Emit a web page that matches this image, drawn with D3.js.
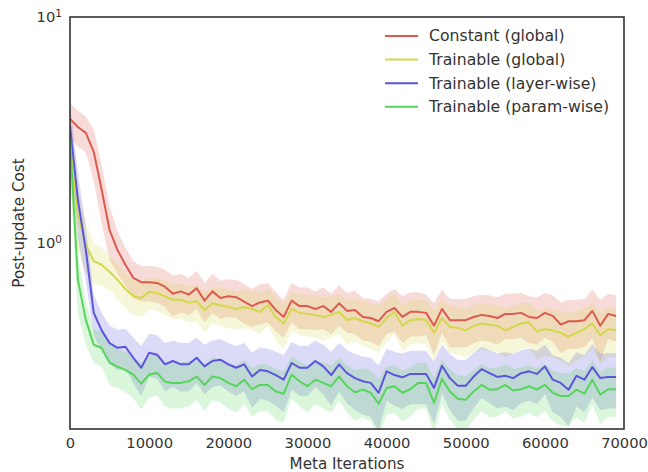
<!DOCTYPE html>
<html>
<head>
<meta charset="utf-8">
<script src="https://cdnjs.cloudflare.com/ajax/libs/d3/7.8.5/d3.min.js"></script>
<style>
body { margin: 0; background: #fff; }
text { font-family: "DejaVu Sans", sans-serif; fill: #333; }
</style>
</head>
<body>
<div id="draw_zone"></div>
<script>

// meta iterations, one sample every 1000 steps
var step = 1000;
var iterations = d3.range(0, 70 * step, step);

var xTicks = [0, 10000, 20000, 30000, 40000, 50000, 60000, 70000];
var yTicks = [1, 10];

var names = ["Constant (global)", "Trainable (global)", "Trainable (layer-wise)", "Trainable (param-wise)"];
var colors = ["#dc5a4f", "#d4d84c", "#5a55dc", "#55d65a"];

// mean post-update cost
var constGlobal = [3.54, 3.26, 3.07, 2.53, 1.72, 1.14, 0.93, 0.80, 0.70, 0.67,
  0.67, 0.665, 0.64, 0.595, 0.61, 0.59, 0.63, 0.555, 0.61, 0.57,
  0.58, 0.575, 0.55, 0.525, 0.545, 0.555, 0.505, 0.47, 0.555, 0.525,
  0.525, 0.51, 0.525, 0.495, 0.54, 0.50, 0.505, 0.47, 0.465, 0.45,
  0.495, 0.515, 0.47, 0.495, 0.495, 0.49, 0.43, 0.51, 0.455, 0.455,
  0.455, 0.47, 0.48, 0.475, 0.465, 0.485, 0.485, 0.49, 0.47, 0.465,
  0.49, 0.475, 0.435, 0.45, 0.45, 0.455, 0.50, 0.43, 0.485, 0.475];
var trainGlobal = [2.70, 1.33, 0.98, 0.83, 0.80, 0.745, 0.686, 0.625, 0.58, 0.57,
  0.607, 0.60, 0.58, 0.56, 0.56, 0.545, 0.55, 0.505, 0.54, 0.53,
  0.52, 0.51, 0.52, 0.51, 0.495, 0.53, 0.47, 0.44, 0.51, 0.49,
  0.485, 0.48, 0.47, 0.48, 0.495, 0.456, 0.465, 0.45, 0.44, 0.425,
  0.465, 0.495, 0.43, 0.455, 0.46, 0.456, 0.40, 0.465, 0.425, 0.42,
  0.41, 0.43, 0.44, 0.434, 0.43, 0.41, 0.425, 0.44, 0.445, 0.405,
  0.415, 0.41, 0.40, 0.385, 0.40, 0.415, 0.44, 0.39, 0.415, 0.41];
var trainLayer = [3.30, 1.55, 0.93, 0.49, 0.41, 0.36, 0.343, 0.347, 0.31, 0.28,
  0.326, 0.32, 0.29, 0.30, 0.29, 0.29, 0.31, 0.284, 0.30, 0.304,
  0.29, 0.28, 0.29, 0.256, 0.274, 0.27, 0.26, 0.248, 0.294, 0.28,
  0.28, 0.30, 0.284, 0.26, 0.29, 0.265, 0.252, 0.244, 0.24, 0.217,
  0.27, 0.26, 0.254, 0.263, 0.263, 0.263, 0.228, 0.286, 0.252, 0.233,
  0.233, 0.256, 0.276, 0.265, 0.255, 0.258, 0.252, 0.265, 0.27, 0.263,
  0.284, 0.248, 0.24, 0.224, 0.258, 0.248, 0.282, 0.252, 0.255, 0.255];
var trainParam = [2.86, 0.686, 0.456, 0.354, 0.343, 0.295, 0.283, 0.274, 0.261, 0.238,
  0.261, 0.266, 0.243, 0.24, 0.24, 0.244, 0.256, 0.235, 0.256, 0.252,
  0.24, 0.232, 0.248, 0.225, 0.235, 0.235, 0.22, 0.215, 0.261, 0.244,
  0.232, 0.248, 0.24, 0.232, 0.256, 0.232, 0.218, 0.224, 0.217, 0.194,
  0.228, 0.232, 0.217, 0.225, 0.24, 0.24, 0.196, 0.25, 0.22, 0.204,
  0.202, 0.22, 0.235, 0.224, 0.225, 0.235, 0.222, 0.225, 0.232, 0.224,
  0.235, 0.217, 0.21, 0.21, 0.224, 0.215, 0.248, 0.213, 0.225, 0.225];

// spread (std) around each mean
var constGlobalStd = [0.60, 0.60, 0.55, 0.65, 0.50, 0.30, 0.20, 0.15, 0.13, 0.12,
  0.12, 0.12, 0.12, 0.12, 0.12, 0.11, 0.12, 0.11, 0.12, 0.11,
  0.11, 0.11, 0.11, 0.10, 0.11, 0.11, 0.10, 0.09, 0.11, 0.11,
  0.11, 0.10, 0.11, 0.10, 0.11, 0.10, 0.11, 0.10, 0.10, 0.10,
  0.10, 0.11, 0.11, 0.11, 0.11, 0.10, 0.11, 0.11, 0.11, 0.11,
  0.11, 0.11, 0.11, 0.11, 0.11, 0.11, 0.11, 0.11, 0.11, 0.11,
  0.11, 0.11, 0.11, 0.11, 0.11, 0.11, 0.12, 0.13, 0.11, 0.11];
var trainGlobalStd = [0.90, 0.40, 0.25, 0.17, 0.15, 0.13, 0.12, 0.11, 0.10, 0.10,
  0.10, 0.10, 0.10, 0.10, 0.10, 0.10, 0.10, 0.10, 0.10, 0.10,
  0.10, 0.10, 0.10, 0.10, 0.10, 0.10, 0.10, 0.10, 0.10, 0.10,
  0.10, 0.10, 0.10, 0.10, 0.10, 0.10, 0.10, 0.10, 0.10, 0.10,
  0.10, 0.10, 0.10, 0.10, 0.10, 0.10, 0.10, 0.10, 0.10, 0.10,
  0.10, 0.10, 0.10, 0.10, 0.10, 0.10, 0.10, 0.10, 0.10, 0.10,
  0.10, 0.10, 0.10, 0.10, 0.10, 0.10, 0.10, 0.10, 0.10, 0.10];
var trainLayerStd = [0.80, 0.50, 0.25, 0.10, 0.08, 0.07, 0.07, 0.07, 0.07, 0.07,
  0.07, 0.07, 0.07, 0.07, 0.07, 0.07, 0.07, 0.07, 0.07, 0.07,
  0.07, 0.07, 0.07, 0.07, 0.07, 0.07, 0.07, 0.07, 0.07, 0.07,
  0.07, 0.07, 0.07, 0.07, 0.07, 0.07, 0.07, 0.07, 0.07, 0.07,
  0.07, 0.07, 0.07, 0.07, 0.07, 0.07, 0.07, 0.07, 0.07, 0.07,
  0.07, 0.07, 0.07, 0.07, 0.07, 0.07, 0.07, 0.07, 0.07, 0.07,
  0.07, 0.07, 0.07, 0.07, 0.07, 0.07, 0.075, 0.07, 0.07, 0.07];
var trainParamStd = [0.80, 0.20, 0.10, 0.06, 0.06, 0.06, 0.055, 0.055, 0.055, 0.055,
  0.055, 0.055, 0.055, 0.055, 0.055, 0.055, 0.055, 0.055, 0.055, 0.055,
  0.055, 0.055, 0.055, 0.055, 0.055, 0.055, 0.055, 0.055, 0.055, 0.055,
  0.055, 0.055, 0.055, 0.055, 0.055, 0.055, 0.055, 0.055, 0.055, 0.055,
  0.055, 0.055, 0.055, 0.055, 0.055, 0.055, 0.055, 0.055, 0.055, 0.055,
  0.055, 0.055, 0.055, 0.055, 0.055, 0.055, 0.055, 0.055, 0.055, 0.055,
  0.055, 0.055, 0.055, 0.055, 0.055, 0.055, 0.055, 0.055, 0.055, 0.055];

var means = [constGlobal, trainGlobal, trainLayer, trainParam];
var stds = [constGlobalStd, trainGlobalStd, trainLayerStd, trainParamStd];

var svgW = 648, svgH = 472;
var plotL = 70, plotR = 624, plotT = 17, plotB = 429;

var holder = d3.select("#draw_zone").append("svg").attr("width", svgW).attr("height", svgH);

var x = d3.scaleLinear().domain([0, 70000]).range([plotL, plotR]);
var y = d3.scaleLog().domain([0.15, 10]).range([plotB, plotT]);

holder.append("clipPath").attr("id", "plot_clip")
  .append("rect").attr("x", plotL).attr("y", plotT).attr("width", plotR - plotL).attr("height", plotB - plotT);

var plot = holder.append("g").attr("clip-path", "url(#plot_clip)");

// bands first, then lines on top
means.forEach(function(m, i) {
  var area = d3.area()
    .x(function(d, j) { return x(iterations[j]); })
    .y0(function(d, j) { return y(Math.max(m[j] - stds[i][j], 0.01)); })
    .y1(function(d, j) { return y(m[j] + stds[i][j]); });
  plot.append("path").datum(m).attr("d", area)
    .style("fill", colors[i]).style("fill-opacity", 0.22).style("stroke", "none");
});

means.forEach(function(m, i) {
  var line = d3.line()
    .x(function(d, j) { return x(iterations[j]); })
    .y(function(d) { return y(d); });
  plot.append("path").datum(m).attr("d", line)
    .style("fill", "none").style("stroke", colors[i]).style("stroke-width", 2)
    .style("stroke-linejoin", "round");
});

// frame
holder.append("rect").attr("x", plotL).attr("y", plotT).attr("width", plotR - plotL).attr("height", plotB - plotT)
  .style("fill", "none").style("stroke", "#333").style("stroke-width", 1.6);

// x axis
var xAxis = d3.axisBottom(x).tickValues(xTicks).tickSize(0).tickPadding(9).tickFormat(d3.format("d"));
var gx = holder.append("g").attr("transform", "translate(0," + plotB + ")").call(xAxis);
gx.select(".domain").remove();
gx.selectAll("text").style("font-size", "14.7px").style("fill", "#333").style("font-family", "DejaVu Sans");

// y axis with 10^n labels
var yAxis = d3.axisLeft(y).tickValues(yTicks).tickSize(0).tickFormat("");
var gy = holder.append("g").attr("transform", "translate(" + plotL + ",0)").call(yAxis);
gy.select(".domain").remove();
gy.selectAll(".tick text").remove();
gy.selectAll(".tick").append("text")
  .attr("x", -8).attr("dy", "0.32em").attr("text-anchor", "end")
  .style("font-size", "14.7px").style("fill", "#333").style("font-family", "DejaVu Sans")
  .each(function(d) {
    var t = d3.select(this);
    t.append("tspan").text("10");
    t.append("tspan").attr("dy", "-0.45em").style("font-size", "10.5px").text(Math.round(Math.log10(d)));
  });

// axis labels
holder.append("text").attr("x", (plotL + plotR) / 2).attr("y", 469).attr("text-anchor", "middle")
  .style("font-size", "15.2px").text("Meta Iterations");
holder.append("text").attr("transform", "translate(24," + (plotT + plotB) / 2 + ") rotate(-90)")
  .attr("text-anchor", "middle").style("font-size", "15.2px").text("Post-update Cost");

// legend
var legend = holder.append("g");
names.forEach(function(n, i) {
  var ly = 36 + i * 23.6;
  legend.append("line").attr("x1", 385).attr("x2", 418).attr("y1", ly).attr("y2", ly)
    .style("stroke", colors[i]).style("stroke-width", 2);
  legend.append("text").attr("x", 429).attr("y", ly).attr("dy", "0.35em")
    .style("font-size", "15.7px").text(n);
});

</script>
</body>
</html>
